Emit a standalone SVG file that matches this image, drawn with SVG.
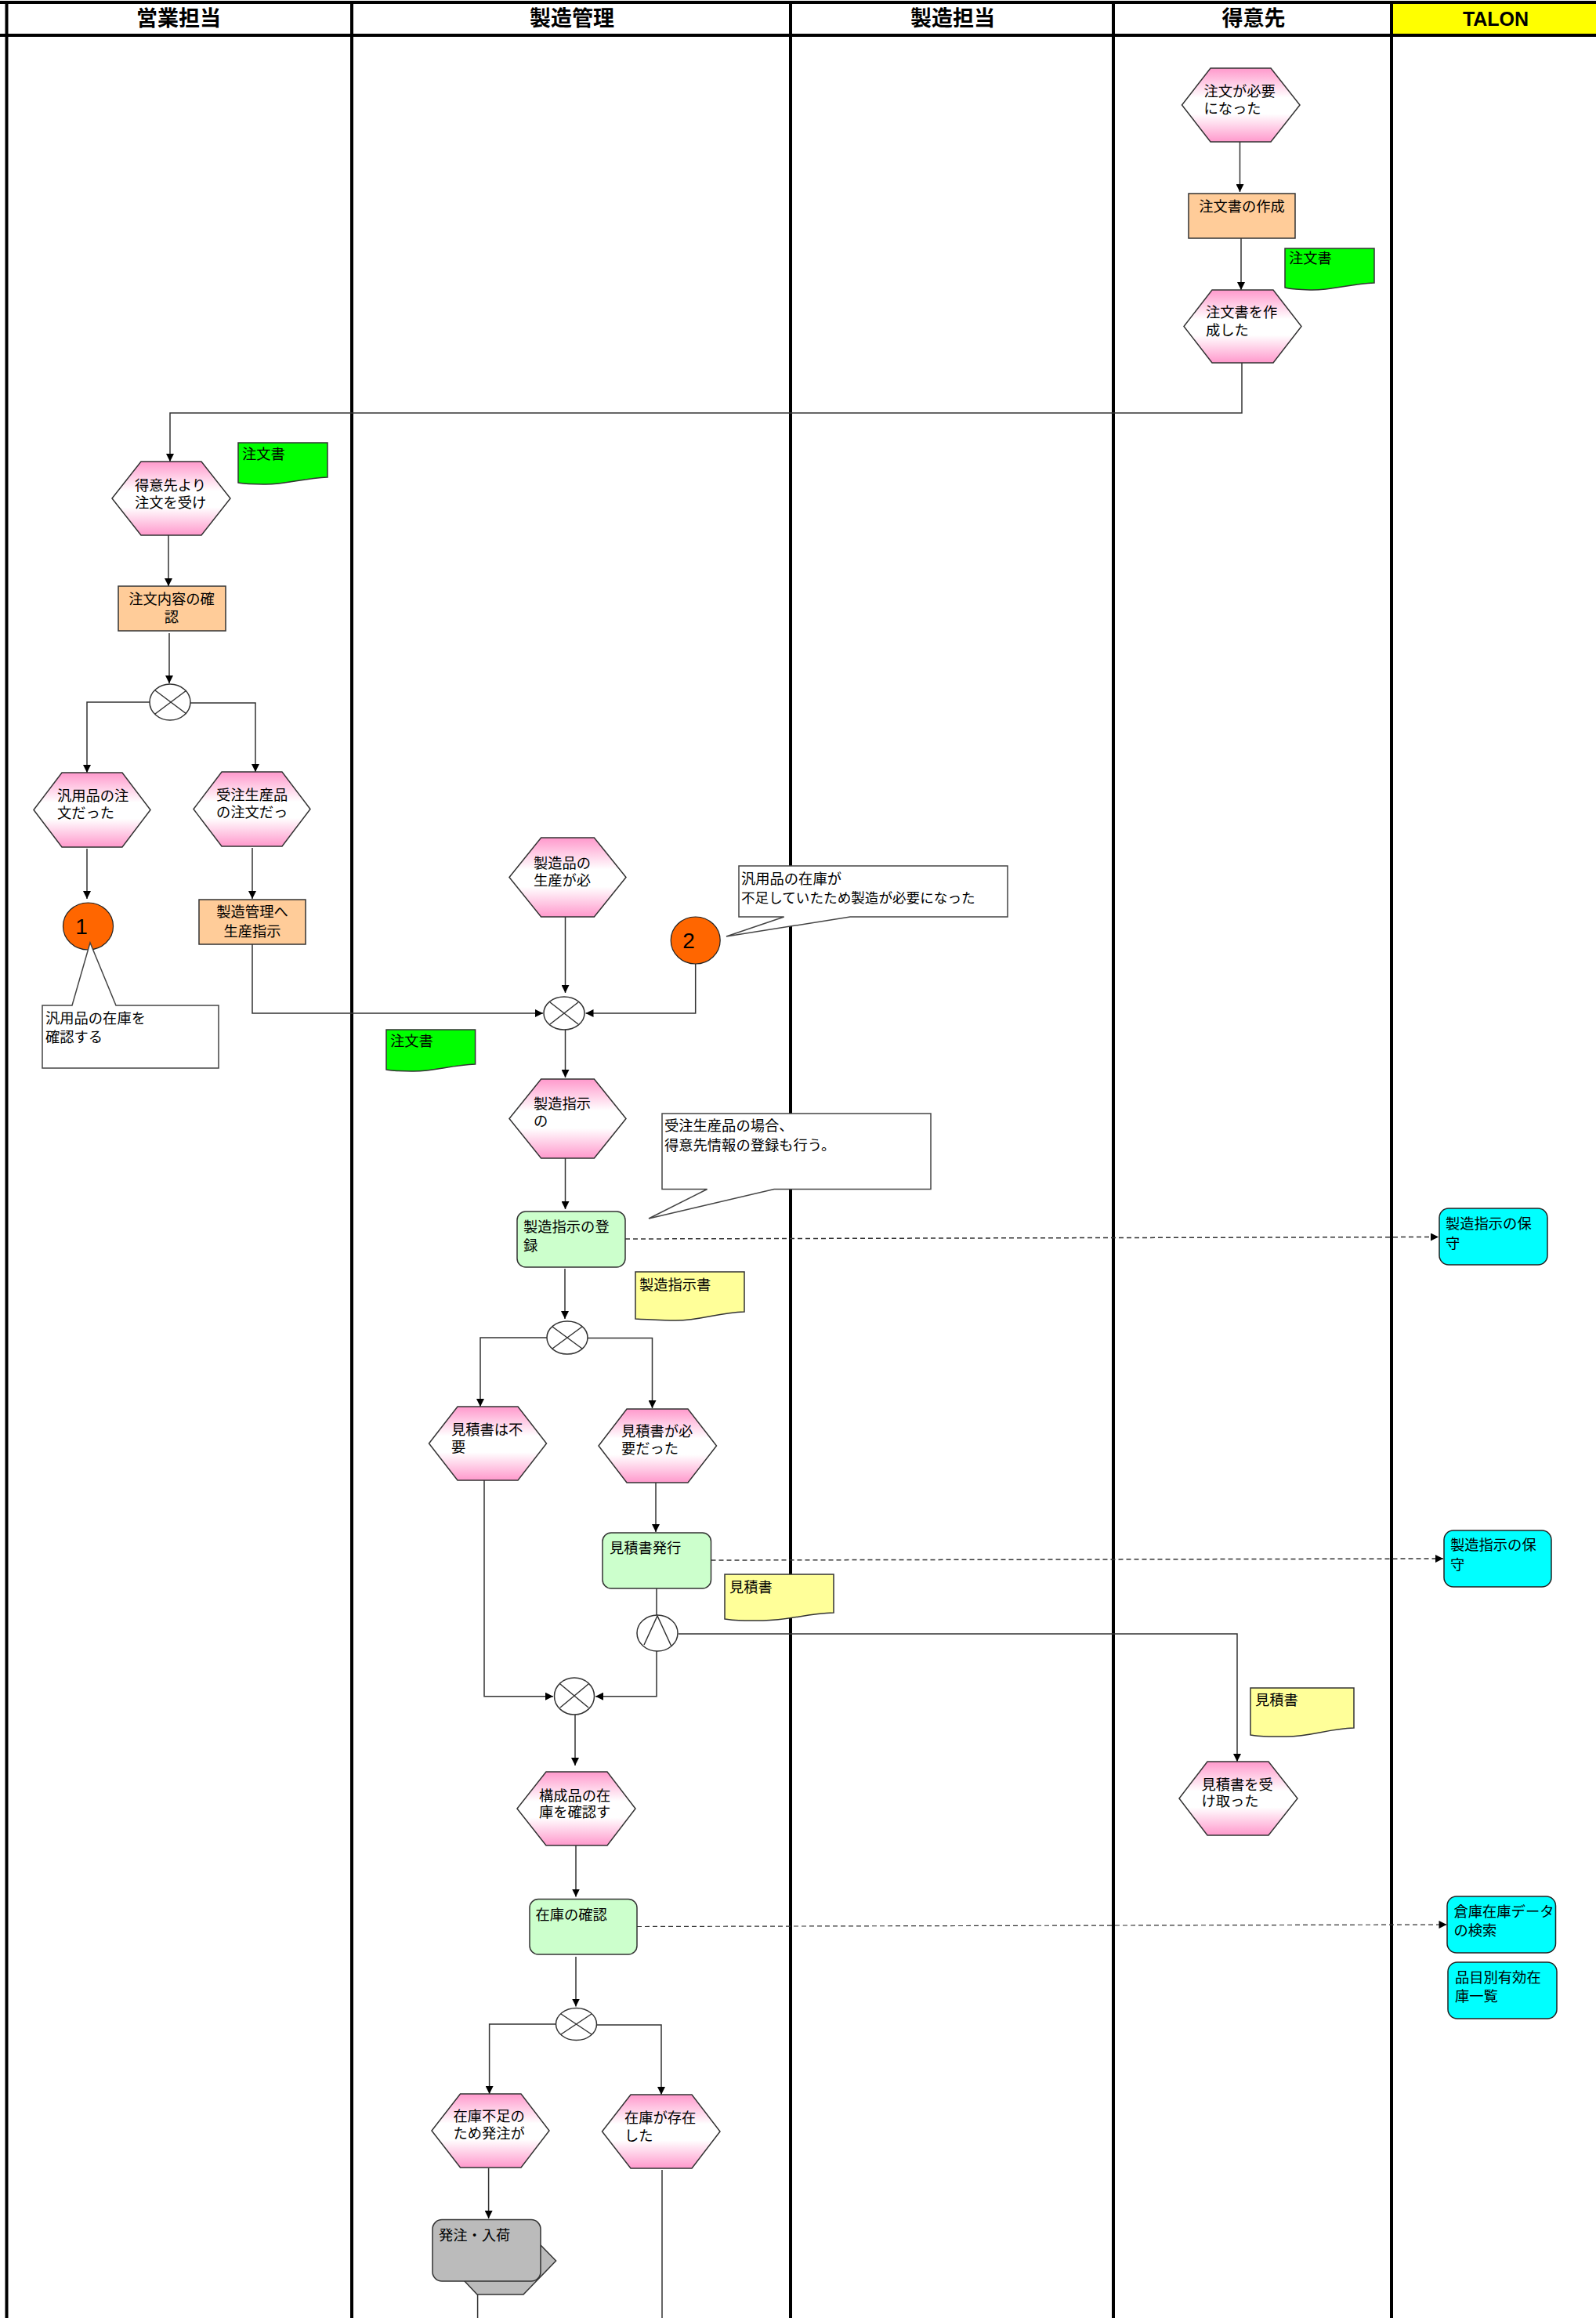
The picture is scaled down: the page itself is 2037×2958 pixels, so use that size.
<svg xmlns="http://www.w3.org/2000/svg" width="2037" height="2958" viewBox="0 0 2037 2958">
<defs>
<linearGradient id="pink" x1="0" y1="0" x2="0" y2="1"><stop offset="0" stop-color="#ff99cc"/><stop offset="0.4" stop-color="#ffffff"/><stop offset="0.62" stop-color="#ffffff"/><stop offset="1" stop-color="#ff99cc"/></linearGradient>
<marker id="ah" markerUnits="userSpaceOnUse" markerWidth="10" markerHeight="10" refX="10" refY="5" orient="auto"><path d="M0,0L10,5L0,10z" fill="#000"/></marker>
</defs>
<style>
text{font-family:"Noto Sans CJK JP","Noto Sans CJK SC",sans-serif;font-size:18.3px;fill:#000}
.h{font-size:27px;font-weight:700;text-anchor:middle;fill:#000}
.t{font-family:"Liberation Sans",Arial,sans-serif;font-size:25px;font-weight:700;text-anchor:middle;fill:#000}
.n{font-family:"Liberation Sans",Arial,sans-serif;font-size:28px;fill:#000}
.c{text-anchor:middle}
.s{font-size:17.6px}
.l{fill:#000;stroke:none}
.hex{fill:url(#pink);stroke:#333;stroke-width:1.5}
.or{fill:#ffcc99;stroke:#333;stroke-width:1.5}
.gr{fill:#ccffcc;stroke:#333;stroke-width:1.5}
.cy{fill:#00ffff;stroke:#222;stroke-width:1.5}
.dg{fill:#00ff00;stroke:#333;stroke-width:1.5}
.dy{fill:#ffff99;stroke:#333;stroke-width:1.5}
.call{fill:#fff;stroke:#444;stroke-width:1.5}
.ball{fill:#ff6600;stroke:#222;stroke-width:1.2}
.mix{fill:#fff;stroke:#333;stroke-width:1.5}
.g{fill:#bbbbbb;stroke:#333;stroke-width:1.5}
#connectors path{fill:none;stroke:#333;stroke-width:1.5}
#connectors .a{marker-end:url(#ah)}
#connectors .d{stroke-dasharray:6 4}
</style>
<rect width="2037" height="2958" fill="#fff"/>
<g id="lanes">
<rect x="1778" y="5" width="259" height="38" fill="#ffff00"/>
<rect class="l" x="0" y="1" width="2037" height="4"/>
<rect class="l" x="0" y="43" width="2037" height="4"/>
<rect class="l" x="6.5" y="1" width="4" height="2957"/>
<rect class="l" x="447" y="1" width="4" height="2957"/>
<rect class="l" x="1007" y="1" width="4" height="2957"/>
<rect class="l" x="1419" y="1" width="4" height="2957"/>
<rect class="l" x="1774" y="1" width="4" height="2957"/>
<text class="h" x="228" y="33">営業担当</text>
<text class="h" x="730" y="33">製造管理</text>
<text class="h" x="1216" y="33">製造担当</text>
<text class="h" x="1600" y="33">得意先</text>
<text class="t" x="1909" y="33">TALON</text>
</g>
<g id="connectors">
<path class="a" d="M1582.500,181V245"/>
<path class="a" d="M1584,304V370"/>
<path class="a" d="M1585,463V527H217V589"/>
<path class="a" d="M215,683V748"/>
<path class="a" d="M216,808V872"/>
<path class="a" d="M191,896H111V986"/>
<path class="a" d="M243,897H326V985"/>
<path class="a" d="M111,1083V1147"/>
<path class="a" d="M322,1082V1147"/>
<path class="a" d="M322,1205V1293H693"/>
<path class="a" d="M721.500,1170V1267"/>
<path class="a" d="M887.700,1230V1293H747.500"/>
<path class="a" d="M721.500,1314V1375"/>
<path class="a" d="M721.500,1478V1543"/>
<path class="a d" d="M798,1581L1836,1578.500"/>
<path class="a" d="M721,1619V1683"/>
<path class="a" d="M698,1707H613V1795"/>
<path class="a" d="M750,1707.500H832.500V1797"/>
<path class="a" d="M618,1889V2164.700H706"/>
<path class="a" d="M837,1892V1955"/>
<path class="a d" d="M907.500,1991L1842,1989"/>
<path d="M838,2027V2061"/>
<path class="a" d="M838,2107V2164.700H760"/>
<path class="a" d="M866,2085H1579V2248"/>
<path class="a" d="M734,2188V2253"/>
<path class="a" d="M735,2355V2420.500"/>
<path class="a d" d="M813,2458.500L1846.500,2456" style="stroke-width:1.200"/>
<path class="a" d="M735,2497V2560.500"/>
<path class="a" d="M710,2583H624.600V2672"/>
<path class="a" d="M761,2584H844V2673"/>
<path class="a" d="M623.600,2767V2831"/>
<path d="M609.600,2928V2958"/>
<path d="M845,2769V2958"/>
</g>
<g id="n-order-needed"><polygon class="hex" points="1508.500,134 1545,87 1622,87 1659,134 1622,181 1545,181"/><text x="1536.500" y="123">注文が必要</text><text x="1536.500" y="145">になった</text></g>
<g id="n-order-create"><rect class="or" x="1517" y="247" width="136" height="57"/><text class="c" x="1585" y="270">注文書の作成</text></g>
<g id="d-order-1"><path class="dg" d="M1640,317H1754V361C1722,362 1700,371 1672,370S1650,369 1640,367z"/><text x="1645" y="336">注文書</text></g>
<g id="n-order-created"><polygon class="hex" points="1511,416.500 1547,370 1625,370 1661,416.500 1625,463 1547,463"/><text x="1539" y="405">注文書を作</text><text x="1539" y="428">成した</text></g>
<g id="n-order-recv"><polygon class="hex" points="143,636 180,589 257,589 294,636 257,683 180,683"/><text x="172" y="626">得意先より</text><text x="172" y="648">注文を受け</text></g>
<g id="d-order-2"><path class="dg" d="M304,565H418V609C386,610 364,619 336,618S314,618 304,616z"/><text x="309" y="586">注文書</text></g>
<g id="n-order-check"><rect class="or" x="151" y="748" width="137" height="57"/><text class="c" x="219" y="771">注文内容の確</text><text class="c" x="219" y="794">認</text></g>
<g id="x-1"><ellipse class="mix" cx="217" cy="896" rx="26" ry="23"/><path class="mix" d="M198,881L238,911M198,911L238,881"/></g>
<g id="n-general"><polygon class="hex" points="43,1033.500 79,986 156,986 192,1033.500 156,1081 79,1081"/><text x="73" y="1022">汎用品の注</text><text x="73" y="1044">文だった</text></g>
<g id="n-custom"><polygon class="hex" points="247,1032.500 283,985 360,985 396,1032.500 360,1080 283,1080"/><text x="276" y="1021">受注生産品</text><text x="276" y="1043">の注文だっ</text></g>
<g id="n-ball-1"><ellipse class="ball" cx="112.500" cy="1182" rx="32" ry="30"/><text class="n c" x="104" y="1192">1</text></g>
<g id="n-callout-1"><path class="call" d="M54,1283H92L115,1203L148,1283H279V1363H54z"/><text x="58" y="1306">汎用品の在庫を</text><text x="58" y="1330">確認する</text></g>
<g id="n-to-mfg"><rect class="or" x="254" y="1148" width="136" height="57"/><text class="c" x="322" y="1170">製造管理へ</text><text class="c" x="322" y="1195">生産指示</text></g>
<g id="n-prod-needed"><polygon class="hex" points="650,1119.500 690.600,1069 758.400,1069 799,1119.500 758.400,1170 690.600,1170"/><text x="681" y="1108">製造品の</text><text x="681" y="1130">生産が必</text></g>
<g id="n-ball-2"><ellipse class="ball" cx="887.700" cy="1200" rx="31.500" ry="30"/><text class="n c" x="879" y="1210">2</text></g>
<g id="n-callout-2"><path class="call" d="M943,1105H1286V1170H1085L927,1195L1000.700,1170H943z"/><text x="946" y="1128">汎用品の在庫が</text><text class="s" x="946" y="1152">不足していたため製造が必要になった</text></g>
<g id="x-2"><ellipse class="mix" cx="720" cy="1293" rx="26" ry="21"/><path class="mix" d="M702,1279L738,1307M702,1307L738,1279"/></g>
<g id="d-order-3"><path class="dg" d="M493,1314H606.600V1358C575,1359 553,1368 525,1367S503,1367 493,1365z"/><text x="498" y="1335">注文書</text></g>
<g id="n-inst"><polygon class="hex" points="650,1427.500 690.600,1377 758.400,1377 799,1427.500 758.400,1478 690.600,1478"/><text x="681" y="1415">製造指示</text><text x="681" y="1437">の</text></g>
<g id="n-callout-3"><path class="call" d="M845,1421H1188V1517.500H988L828,1555L902.600,1517.500H845z"/><text x="848" y="1443">受注生産品の場合、</text><text x="848" y="1468">得意先情報の登録も行う。</text></g>
<g id="n-inst-reg"><rect class="gr" x="660" y="1546" width="138" height="71" rx="11"/><text x="668" y="1572">製造指示の登</text><text x="668" y="1596">録</text></g>
<g id="t-inst-maint-1"><rect class="cy" x="1837" y="1542" width="138" height="72" rx="12"/><text x="1845" y="1568">製造指示の保</text><text x="1845" y="1593">守</text></g>
<g id="d-inst"><path class="dy" d="M811,1623H950V1674C915,1675 892,1686 860,1685S825,1684 811,1683z"/><text x="816" y="1646">製造指示書</text></g>
<g id="x-3"><ellipse class="mix" cx="724" cy="1707" rx="26" ry="21"/><path class="mix" d="M705,1693L743,1721M705,1721L743,1693"/></g>
<g id="n-noquote"><polygon class="hex" points="547.500,1842 584,1795 661,1795 697.500,1842 661,1889 584,1889"/><text x="576" y="1831">見積書は不</text><text x="576" y="1853">要</text></g>
<g id="n-quote"><polygon class="hex" points="764,1845 800,1798 878,1798 914.500,1845 878,1892 800,1892"/><text x="793" y="1833">見積書が必</text><text x="793" y="1855">要だった</text></g>
<g id="n-quote-issue"><rect class="gr" x="769" y="1956" width="138.500" height="71" rx="11"/><text x="778" y="1982">見積書発行</text></g>
<g id="t-inst-maint-2"><rect class="cy" x="1843" y="1953" width="137" height="72" rx="12"/><text x="1851" y="1978">製造指示の保</text><text x="1851" y="2003">守</text></g>
<g id="d-quote-1"><path class="dy" d="M925,2009H1064V2058C1029,2059 1006,2068 974,2068S939,2068 925,2066z"/><text x="931" y="2032">見積書</text></g>
<g id="and-1"><ellipse class="mix" cx="839" cy="2084" rx="26" ry="23"/><path class="mix" d="M822,2099L839,2062L857,2101" fill="none"/></g>
<g id="x-4"><ellipse class="mix" cx="733" cy="2164.500" rx="25.500" ry="23.500"/><path class="mix" d="M715,2149L751,2179M715,2179L751,2149"/></g>
<g id="d-quote-2"><path class="dy" d="M1596,2154H1728V2205C1695,2206 1673,2216 1642,2216S1610,2216 1596,2214z"/><text x="1602" y="2176">見積書</text></g>
<g id="n-quote-recv"><polygon class="hex" points="1505,2295 1541,2248 1619,2248 1656,2295 1619,2342 1541,2342"/><text x="1533.500" y="2284">見積書を受</text><text x="1533.500" y="2305">け取った</text></g>
<g id="n-stock-check-ev"><polygon class="hex" points="660,2308 697,2261 775,2261 811,2308 775,2355 697,2355"/><text x="688" y="2298">構成品の在</text><text x="688" y="2319">庫を確認す</text></g>
<g id="n-stock-check"><rect class="gr" x="676" y="2423.500" width="137" height="70.500" rx="11"/><text x="683.500" y="2450">在庫の確認</text></g>
<g id="t-stock-search"><rect class="cy" x="1847" y="2420" width="138.500" height="72" rx="12"/><text x="1855.500" y="2446">倉庫在庫データ</text><text x="1855.500" y="2470">の検索</text></g>
<g id="t-stock-list"><rect class="cy" x="1848" y="2504" width="139" height="72" rx="12"/><text x="1857" y="2530">品目別有効在</text><text x="1857" y="2554">庫一覧</text></g>
<g id="x-5"><ellipse class="mix" cx="735.500" cy="2583" rx="26" ry="20.500"/><path class="mix" d="M716,2570L755,2596M716,2596L755,2570"/></g>
<g id="n-short"><polygon class="hex" points="551,2719 587.500,2672 665,2672 701,2719 665,2766 587.500,2766"/><text x="578.500" y="2707">在庫不足の</text><text x="578.500" y="2729">ため発注が</text></g>
<g id="n-exists"><polygon class="hex" points="768.500,2720 805,2673 883,2673 919,2720 883,2767 805,2767"/><text x="797" y="2709">在庫が存在</text><text x="797" y="2732">した</text></g>
<g id="n-purchase"><polygon class="g" points="685,2865 690,2865 709.600,2885 668,2928 609,2928 593,2911"/><rect class="g" x="552" y="2832.600" width="138" height="78.400" rx="12"/><text x="560" y="2859">発注・入荷</text></g>
</svg>
